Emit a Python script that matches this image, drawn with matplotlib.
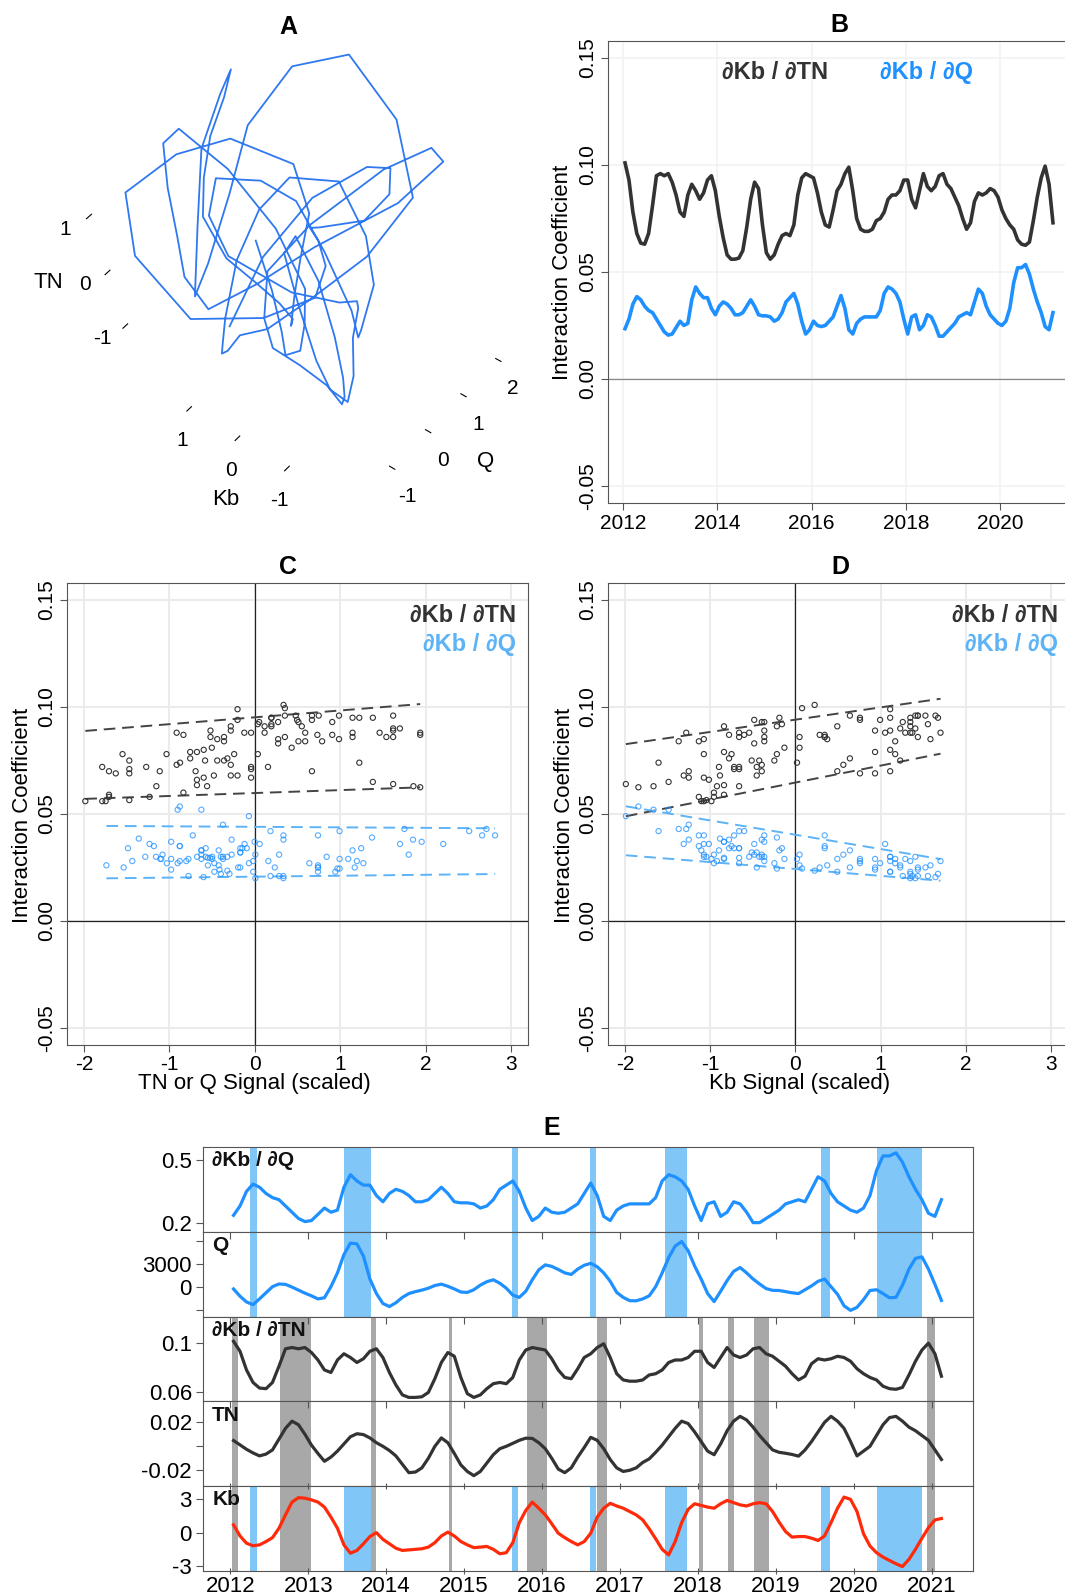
import numpy as np
import matplotlib
matplotlib.use('Agg')
import matplotlib.pyplot as plt

plt.rcParams['font.family'] = ['Liberation Sans', 'DejaVu Sans']
plt.rcParams['axes.unicode_minus'] = False

# ---------------- data (monthly, Jan 2012 .. Feb 2021) ----------------
dkb_dtn = [
    0.101, 0.093, 0.078, 0.068, 0.0635, 0.063, 0.068, 0.081, 0.095, 0.096, 0.095, 0.096,
    0.092, 0.086, 0.078, 0.076, 0.086, 0.091, 0.088, 0.084, 0.087, 0.093, 0.095, 0.088,
    0.076, 0.066, 0.058, 0.056, 0.056, 0.0565, 0.060, 0.071, 0.084, 0.092, 0.089, 0.072,
    0.059, 0.056, 0.058, 0.063, 0.067, 0.068, 0.067, 0.072, 0.086, 0.094, 0.096, 0.095,
    0.094, 0.087, 0.078, 0.072, 0.071, 0.079, 0.088, 0.091, 0.096, 0.099, 0.088, 0.075,
    0.070, 0.069, 0.069, 0.070, 0.074, 0.075, 0.078, 0.084, 0.086, 0.086, 0.088, 0.093,
    0.093, 0.084, 0.080, 0.088, 0.096, 0.090, 0.088, 0.090, 0.095, 0.096, 0.091, 0.089,
    0.085, 0.081, 0.075, 0.070, 0.073, 0.083, 0.087, 0.086, 0.087, 0.089, 0.088, 0.085,
    0.079, 0.075, 0.072, 0.070, 0.065, 0.063, 0.0625, 0.064, 0.074, 0.085, 0.094, 0.0995,
    0.091, 0.073]

dkb_dq = [
    0.0235, 0.028, 0.035, 0.0385, 0.037, 0.034, 0.032, 0.031, 0.028, 0.025, 0.022, 0.0205,
    0.021, 0.024, 0.027, 0.025, 0.026, 0.037, 0.043, 0.040, 0.038, 0.038, 0.033, 0.030,
    0.034, 0.036, 0.035, 0.033, 0.030, 0.030, 0.031, 0.034, 0.037, 0.034, 0.030, 0.0295,
    0.0295, 0.029, 0.027, 0.028, 0.031, 0.036, 0.038, 0.040, 0.035, 0.027, 0.021, 0.023,
    0.027, 0.025, 0.0245, 0.025, 0.027, 0.029, 0.034, 0.039, 0.033, 0.023, 0.021, 0.026,
    0.028, 0.029, 0.029, 0.029, 0.029, 0.032, 0.040, 0.043, 0.042, 0.040, 0.036, 0.028,
    0.021, 0.029, 0.030, 0.023, 0.025, 0.030, 0.029, 0.025, 0.020, 0.020, 0.022, 0.024,
    0.026, 0.029, 0.030, 0.031, 0.030, 0.036, 0.042, 0.040, 0.034, 0.030, 0.028, 0.026,
    0.025, 0.027, 0.033, 0.045, 0.052, 0.052, 0.0535, 0.049, 0.042, 0.036, 0.031, 0.0245,
    0.023, 0.031]

q_flow = [
    -300, -1250, -2000, -2350, -1600, -800, 0, 350, 300, -50, -450, -850,
    -1200, -1600, -1450, 0, 1800, 4200, 5700, 5600, 4000, 1000, -900, -2200,
    -2600, -2100, -1400, -900, -650, -450, -200, 150, 330, 50, -300, -700,
    -750, -400, 200, 650, 900, 450, -200, -1100, -1400, -600, 900, 2200,
    2850, 2650, 2250, 1800, 1600, 2300, 2800, 3050, 2600, 1800, 700, -750,
    -1400, -1830, -1850, -1600, -1200, 0, 1800, 3800, 5300, 5900, 4700, 2700,
    1000, -900, -1950, -600, 800, 2000, 2500, 1800, 1000, 350, -250, -480,
    -500, -650, -800, -900, -400, 100, 700, 1000, 0, -1000, -2500, -3100,
    -2700, -1700, -500, -400, -900, -1450, -1400, 200, 2300, 3700, 3900, 2300,
    300, -1800]

tn = [
    0.0048, 0.0012, -0.0025, -0.0055, -0.008, -0.0065, -0.003, 0.006, 0.015, 0.021, 0.018, 0.010,
    0.001, -0.006, -0.0125, -0.009, -0.004, 0.002, 0.008, 0.0105, 0.0098, 0.007, 0.003, 0.000,
    -0.0035, -0.008, -0.015, -0.022, -0.0215, -0.018, -0.010, 0.000, 0.007, 0.003, -0.006, -0.0155,
    -0.021, -0.0245, -0.021, -0.014, -0.007, -0.002, 0.000, 0.0025, 0.005, 0.0068, 0.0066, 0.003,
    -0.002, -0.010, -0.019, -0.022, -0.018, -0.009, -0.001, 0.0075, 0.005, -0.002, -0.011, -0.018,
    -0.021, -0.020, -0.018, -0.0135, -0.0105, -0.005, 0.001, 0.008, 0.015, 0.021, 0.019, 0.012,
    0.004, -0.004, -0.007, 0.002, 0.013, 0.021, 0.025, 0.022, 0.016, 0.009, 0.003, -0.003,
    -0.005, -0.0058, -0.0068, -0.0082, -0.003, 0.004, 0.012, 0.020, 0.025, 0.021, 0.015, 0.004,
    -0.008, -0.004, 0.000, 0.009, 0.018, 0.024, 0.025, 0.021, 0.016, 0.013, 0.009, 0.005,
    -0.003, -0.011]

kb = [
    0.7, -0.3, -0.95, -1.18, -1.1, -0.8, -0.45, 0.4, 1.6, 2.75, 3.15, 3.1,
    2.95, 2.75, 2.3, 1.4, 0.4, -1.1, -1.85, -1.6, -1.0, -0.35, 0.0, -0.6,
    -1.0, -1.4, -1.6, -1.55, -1.5, -1.45, -1.3, -0.9, -0.3, 0.05, -0.3, -0.8,
    -1.1, -1.35, -1.3, -1.24, -1.5, -1.9, -1.8, -0.9, 0.9, 2.0, 2.75, 2.2,
    1.6, 0.8, -0.05, -0.45, -0.8, -1.1, -0.8, -0.05, 1.4, 2.2, 2.64, 2.4,
    2.2, 1.9, 1.6, 1.15, 0.35, -0.55, -1.5, -2.0, -0.8, 0.9, 2.1, 2.6,
    2.45, 2.3, 2.2, 2.6, 2.9, 2.7, 2.5, 2.4, 2.6, 2.7, 2.6, 1.9,
    0.95, 0.1, -0.4, -0.35, -0.35, -0.5, -0.7, -0.3, 0.9, 2.2, 3.2, 3.0,
    1.9, -0.1, -1.2, -1.8, -2.2, -2.5, -2.8, -3.05, -2.4, -1.5, -0.5, 0.45,
    1.15, 1.27]

years = 2012 + (np.arange(len(kb)) + 0.5) / 12.0

# quantile-regression bands (intercept, slope)
c_tn_upper = (0.0952, 0.0032)
c_tn_lower = (0.0598, 0.00137)
c_q_upper = (0.0440, -0.00024)
c_q_lower = (0.0207, 0.00044)
d_tn_upper = (0.0941, 0.00574)
d_tn_lower = (0.0647, 0.00792)
d_q_upper = (0.0403, -0.00668)
d_q_lower = (0.0243, -0.00322)

# event shading for panel E
blue_spans = [(2012.25, 2012.34), (2013.46, 2013.80), (2015.61, 2015.69), (2016.62, 2016.69),
              (2017.58, 2017.86), (2019.58, 2019.70), (2020.30, 2020.88)]
gray_spans = [(2012.02, 2012.10), (2012.64, 2013.03), (2013.81, 2013.87), (2014.81, 2014.85),
              (2015.81, 2016.06), (2016.70, 2016.84), (2018.01, 2018.06), (2018.38, 2018.46),
              (2018.72, 2018.91), (2020.94, 2021.04)]

year_ticks = list(range(2012, 2022))

# ---------------- helpers ----------------
def scale(v):
    v = np.asarray(v, dtype=float)
    return (v - v.mean()) / v.std(ddof=1)

tn_s, q_s, kb_s = scale(tn), scale(q_flow), scale(kb)

W, H = 1065, 1595
fig = plt.figure(figsize=(W / 100, H / 100), dpi=100)

def ax_px(x0, y0, x1, y1, **kw):
    return fig.add_axes([x0 / W, 1 - y1 / H, (x1 - x0) / W, (y1 - y0) / H], **kw)

def ftext(x, y, s, **kw):
    fig.text(x / W, 1 - y / H, s, **kw)

DARK = '#333333'
BLUE = '#1E90FF'
LBLUE = '#5DB3F5'
SPINE = '#555555'

# ---------------- Panel A ----------------
axA = ax_px(45, -12, 565, 508, projection='3d')
axA.plot(q_s, kb_s, tn_s, color='#2F78F0', lw=1.3)
axA.view_init(elev=46, azim=-128, roll=14)
axA.set_box_aspect((1, 1, 1.15), zoom=1.0)
axA.patch.set_alpha(0)
for axis in (axA.xaxis, axA.yaxis, axA.zaxis):
    axis.set_pane_color((1, 1, 1, 0))
    axis.line.set_color((1, 1, 1, 0))
    axis._axinfo['grid']['color'] = (1, 1, 1, 0)
axA.grid(False)
axA.set_xticks([-1, 0, 1, 2])
axA.set_yticks([-1, 0, 1])
axA.set_zticks([-1, 0, 1])
axA.tick_params(labelsize=15)
axA.set_xlabel('Q', fontsize=16, labelpad=8)
axA.set_ylabel('Kb', fontsize=16, labelpad=8)
axA.set_zlabel('TN', fontsize=16, labelpad=8)
ftext(288, 27, 'A', ha='center', va='center', fontsize=18, fontweight='bold')

# ---------------- Panel B ----------------
axB = ax_px(608, 41, 1073, 503)
axB.grid(True, color='#F2F2F2', lw=1.2)
axB.set_axisbelow(True)
axB.axhline(0, color='#888888', lw=0.9)
axB.plot(years, dkb_dtn, color=DARK, lw=2.6)
axB.plot(years, dkb_dq, color=BLUE, lw=2.6)
axB.set_xlim(2011.68, 2021.55)
axB.set_ylim(-0.058, 0.158)
axB.set_xticks([2012, 2014, 2016, 2018, 2020])
axB.set_yticks([-0.05, 0, 0.05, 0.10, 0.15])
axB.set_yticklabels(['-0.05', '0.00', '0.05', '0.10', '0.15'])
axB.tick_params(axis='both', labelsize=15, length=5, color=SPINE, pad=3)
axB.tick_params(axis='y', labelrotation=90)
for t in axB.get_yticklabels():
    t.set_va('center')
for s in axB.spines.values():
    s.set_color(SPINE)
ftext(563, 272, 'Interaction Coefficient', rotation=90, ha='center', va='center', fontsize=16)
ftext(775, 72, '∂Kb / ∂TN', ha='center', va='center', fontsize=17, fontweight='bold', color=DARK)
ftext(927, 72, '∂Kb / ∂Q', ha='center', va='center', fontsize=17, fontweight='bold', color=BLUE)
ftext(839, 25, 'B', ha='center', va='center', fontsize=18, fontweight='bold')

# ---------------- Panels C & D ----------------
def band(ax, xs, coef, color):
    xs = np.asarray(xs)
    xr = np.array([xs.min(), xs.max()])
    ax.plot(xr, coef[0] + coef[1] * xr, color=color, lw=1.4, dashes=(6, 3.5))

def scatter_panel(x0, x1, xs_tn, xs_q, bands, xlabel_txt, letter, lx, xlab_x):
    ax = ax_px(x0, 583, x1, 1045)
    ax.grid(True, color='#EBEBEB', lw=1.5)
    ax.set_axisbelow(True)
    ax.axhline(0, color='#222222', lw=0.9)
    ax.axvline(0, color='#222222', lw=0.9)
    ax.scatter(xs_tn, dkb_dtn, s=14, facecolors='none', edgecolors=DARK, linewidths=0.8, zorder=3)
    ax.scatter(xs_q, dkb_dq, s=14, facecolors='none', edgecolors=BLUE, linewidths=0.8, alpha=0.75, zorder=3)
    band(ax, xs_tn, bands[0], '#444444')
    band(ax, xs_tn, bands[1], '#444444')
    band(ax, xs_q, bands[2], LBLUE)
    band(ax, xs_q, bands[3], LBLUE)
    ax.set_xlim(-2.2, 3.2)
    ax.set_ylim(-0.058, 0.158)
    ax.set_xticks([-2, -1, 0, 1, 2, 3])
    ax.set_yticks([-0.05, 0, 0.05, 0.10, 0.15])
    ax.set_yticklabels(['-0.05', '0.00', '0.05', '0.10', '0.15'])
    ax.tick_params(axis='both', labelsize=15, length=5, color=SPINE, pad=3)
    ax.tick_params(axis='x', pad=2)
    ax.tick_params(axis='y', labelrotation=90)
    for t in ax.get_yticklabels():
        t.set_va('center')
    for s in ax.spines.values():
        s.set_color(SPINE)
    ftext(x0 - 44, 815, 'Interaction Coefficient', rotation=90, ha='center', va='center', fontsize=16)
    ftext(xlab_x, 1083, xlabel_txt, ha='center', va='center', fontsize=16)
    ftext(lx, 567, letter, ha='center', va='center', fontsize=18, fontweight='bold')
    return ax

axC = scatter_panel(67, 528, tn_s, q_s, (c_tn_upper, c_tn_lower, c_q_upper, c_q_lower),
                    'TN or Q Signal (scaled)', 'C', 288, 254)
ftext(516, 615, '∂Kb / ∂TN', ha='right', va='center', fontsize=17, fontweight='bold', color=DARK)
ftext(516, 645, '∂Kb / ∂Q', ha='right', va='center', fontsize=17, fontweight='bold', color=LBLUE)

axD = scatter_panel(608, 1068, kb_s, kb_s, (d_tn_upper, d_tn_lower, d_q_upper, d_q_lower),
                    'Kb Signal (scaled)', 'D', 840, 800)
ftext(1058, 615, '∂Kb / ∂TN', ha='right', va='center', fontsize=17, fontweight='bold', color=DARK)
ftext(1058, 645, '∂Kb / ∂Q', ha='right', va='center', fontsize=17, fontweight='bold', color=LBLUE)

# ---------------- Panel E ----------------
e_top, e_bot = 1147, 1571
ph = (e_bot - e_top) / 5.0
e_series = [
    (np.asarray(dkb_dq) * 10, BLUE, '∂Kb / ∂Q', (0.156, 0.563), [0.2, 0.5], ['0.2', '0.5'], 'blue'),
    (q_flow, BLUE, 'Q', (-3913, 7174), [-3000, 0, 3000, 6000], ['', '0', '3000', ''], 'blue'),
    (dkb_dtn, DARK, '∂Kb / ∂TN', (0.0528, 0.1208), [0.06, 0.1], ['0.06', '0.1'], 'gray'),
    (tn, DARK, 'TN', (-0.0333, 0.0375), [-0.02, 0, 0.02], ['-0.02', '', '0.02'], 'gray'),
    (kb, '#FF2A0A', 'Kb', (-3.45, 4.18), [-3, 0, 3], ['-3', '0', '3'], 'both'),
]
for i, (vals, col, lab, yl, yt, ytl, shade) in enumerate(e_series):
    ax = ax_px(203, e_top + i * ph, 973, e_top + (i + 1) * ph)
    if shade in ('blue', 'both'):
        for a, b in blue_spans:
            ax.axvspan(a, b, color='#80C6F7', lw=0, zorder=0)
    if shade in ('gray', 'both'):
        for a, b in gray_spans:
            ax.axvspan(a, b, color='#A8A8A8', lw=0, zorder=0)
    ax.plot(years, vals, color=col, lw=2.3, zorder=3)
    ax.set_xlim(2011.65, 2021.53)
    ax.set_ylim(*yl)
    ax.set_yticks(yt)
    ax.set_yticklabels(ytl)
    ax.set_xticks(year_ticks)
    ax.tick_params(axis='y', labelsize=16, length=5, color=SPINE, pad=3)
    if i == 0:
        ax.tick_params(axis='x', bottom=False, top=False, labelbottom=False)
    elif i < 4:
        ax.tick_params(axis='x', bottom=False, top=True, direction='in', length=5,
                       color=SPINE, labelbottom=False)
    else:
        ax.tick_params(axis='x', bottom=True, top=True, direction='inout', length=5,
                       color=SPINE, labelsize=16, pad=1)
    for s in ax.spines.values():
        s.set_color(SPINE)
    ax.text(0.012, 0.95, lab, transform=ax.transAxes, ha='left', va='top',
            fontsize=15, fontweight='bold', color='#111111', zorder=5)
ftext(552, 1128, 'E', ha='center', va='center', fontsize=18, fontweight='bold')

fig.savefig('out.png', dpi=100)
